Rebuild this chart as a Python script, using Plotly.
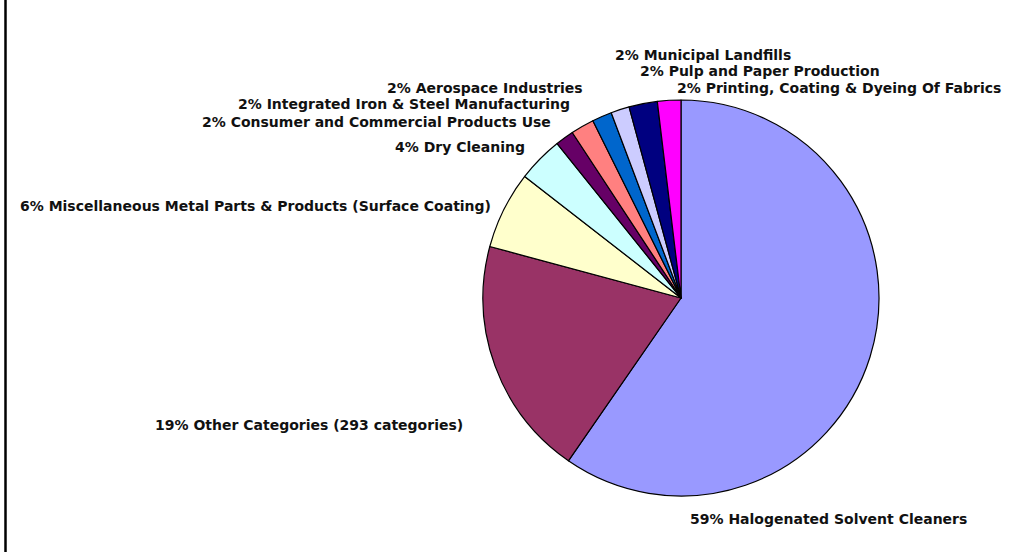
import plotly.graph_objects as go

W, H = 1014, 552

categories = [
    "Halogenated Solvent Cleaners",
    "Other Categories (293 categories)",
    "Miscellaneous Metal Parts & Products (Surface Coating)",
    "Dry Cleaning",
    "Consumer and Commercial Products Use",
    "Integrated Iron & Steel Manufacturing",
    "Aerospace Industries",
    "Municipal Landfills",
    "Pulp and Paper Production",
    "Printing, Coating & Dyeing Of Fabrics",
]
values = [59.3, 19.45, 6.3, 3.7, 1.5, 1.9, 1.6, 1.5, 2.3, 1.9]
pct_labels = ["59%", "19%", "6%", "4%", "2%", "2%", "2%", "2%", "2%", "2%"]

colors = ["#9999FF", "#993366", "#FFFFCC", "#CCFFFF", "#660066",
          "#FF8080", "#0066CC", "#CCCCFF", "#000080", "#FF00FF"]

# label anchor positions in pixels (x, y, xanchor)
label_pos = [
    (688, 519, "left"),
    (465, 425, "right"),
    (493, 206, "right"),
    (527, 147, "right"),
    (553, 122, "right"),
    (572, 104, "right"),
    (585, 88, "right"),
    (613, 55, "left"),
    (638, 71, "left"),
    (675, 88, "left"),
]

cx, cy, r = 681, 298, 198

fig = go.Figure(go.Pie(
    labels=categories,
    values=values,
    sort=False,
    direction="clockwise",
    rotation=0,
    textinfo="none",
    hoverinfo="label+percent",
    marker=dict(colors=colors, line=dict(color="#000000", width=1.2)),
    domain=dict(x=[(cx - r) / W, (cx + r) / W],
                y=[(H - cy - r) / H, (H - cy + r) / H]),
    showlegend=False,
))

for cat, p, (px, py, xa) in zip(categories, pct_labels, label_pos):
    fig.add_annotation(
        x=px / W, y=1 - py / H, xref="paper", yref="paper",
        text=f"<b>{p} {cat}</b>", showarrow=False,
        xanchor=xa, yanchor="middle",
        font=dict(family="DejaVu Sans, Arial, sans-serif", size=14, color="#111111"),
    )

fig.add_shape(type="line", xref="paper", yref="paper",
              x0=5.5 / W, x1=5.5 / W, y0=0, y1=1,
              line=dict(color="#000000", width=2.5))

fig.update_layout(
    width=W, height=H,
    margin=dict(l=0, r=0, t=0, b=0),
    paper_bgcolor="white",
    plot_bgcolor="white",
)

fig.write_html("out.html",
               config={"displayModeBar": False},
               post_script="document.body.style.margin='0';document.body.style.overflow='hidden';")
